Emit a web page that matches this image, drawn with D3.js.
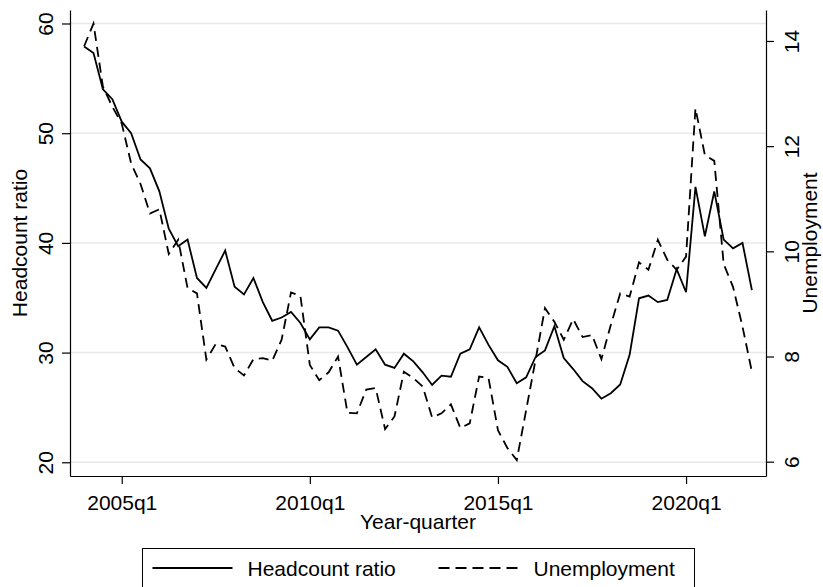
<!DOCTYPE html>
<html>
<head>
<meta charset="utf-8">
<script src="https://cdn.jsdelivr.net/npm/d3@7"></script>
<style>
  body { margin: 0; background: #fff; }
  text { font-family: "Liberation Sans", Arial, sans-serif; fill: #000; }
</style>
</head>
<body>
<script>

const quarters = [
  "2004q1","2004q2","2004q3","2004q4","2005q1","2005q2","2005q3","2005q4",
  "2006q1","2006q2","2006q3","2006q4","2007q1","2007q2","2007q3","2007q4",
  "2008q1","2008q2","2008q3","2008q4","2009q1","2009q2","2009q3","2009q4",
  "2010q1","2010q2","2010q3","2010q4","2011q1","2011q2","2011q3","2011q4",
  "2012q1","2012q2","2012q3","2012q4","2013q1","2013q2","2013q3","2013q4",
  "2014q1","2014q2","2014q3","2014q4","2015q1","2015q2","2015q3","2015q4",
  "2016q1","2016q2","2016q3","2016q4","2017q1","2017q2","2017q3","2017q4",
  "2018q1","2018q2","2018q3","2018q4","2019q1","2019q2","2019q3","2019q4",
  "2020q1","2020q2","2020q3","2020q4","2021q1","2021q2","2021q3","2021q4"
]

const headcount = [
  57.9, 57.3, 54.0, 53.1, 51.05, 50.0, 47.6, 46.8,
  44.7, 41.3, 39.7, 40.3, 36.8, 35.9, 37.6, 39.3,
  36.0, 35.3, 36.8, 34.6, 32.9, 33.2, 33.7, 32.7,
  31.2, 32.3, 32.3, 32.0, 30.5, 28.9, 29.6, 30.3,
  28.9, 28.6, 29.9, 29.2, 28.2, 27.05, 27.9, 27.8,
  29.9, 30.3, 32.3, 30.7, 29.3, 28.7, 27.2, 27.75,
  29.6, 30.2, 32.4, 29.5, 28.5, 27.4, 26.75, 25.8,
  26.3, 27.1, 29.8, 34.95, 35.2, 34.6, 34.8, 37.6,
  35.5, 45.1, 40.6, 44.7, 40.3, 39.5, 40.0, 35.7
]

const unemployment = [
  13.9, 14.33, 13.13, 12.75, 12.43, 11.67, 11.28, 10.72,
  10.8, 9.95, 10.22, 9.3, 9.2, 7.94, 8.24, 8.19,
  7.78, 7.64, 7.95, 7.97, 7.92, 8.32, 9.22, 9.15,
  7.84, 7.55, 7.7, 8.0, 6.93, 6.92, 7.37, 7.40,
  6.62, 6.86, 7.71, 7.59, 7.43, 6.84, 6.92, 7.09,
  6.64, 6.73, 7.62, 7.59, 6.6, 6.26, 6.03, 6.98,
  7.94, 8.92, 8.66, 8.32, 8.71, 8.37, 8.41, 7.95,
  8.6, 9.2, 9.14, 9.79, 9.65, 10.22, 9.84, 9.65,
  9.9, 12.72, 11.83, 11.72, 9.76, 9.32, 8.57, 7.71
]

const xTicks = ["2005q1", "2010q1", "2015q1", "2020q1"]
const leftTicks = [20, 30, 40, 50, 60]
const rightTicks = [6, 8, 10, 12, 14]
const seriesNames = ["Headcount ratio", "Unemployment"]

const w = 823
const h = 587
const plotLeft = 70
const plotRight = 766
const plotTop = 10
const plotBottom = 476
const fontSize = 21

const svg = d3.select("body")
  .append("svg")
  .attr("width", w)
  .attr("height", h)

const xScale = d3.scalePoint()
  .domain(quarters)
  .range([plotLeft, plotRight])
  .padding(1.5)

const yLeft = d3.scaleLinear()
  .domain([18.75, 61.23])
  .range([plotBottom, plotTop])

const yRight = d3.scaleLinear()
  .domain([5.728, 14.589])
  .range([plotBottom, plotTop])

// grid lines follow the left axis
svg.append("g")
  .selectAll("line")
  .data(leftTicks)
  .enter()
  .append("line")
  .attr("x1", plotLeft)
  .attr("x2", plotRight)
  .attr("y1", d => yLeft(d))
  .attr("y2", d => yLeft(d))
  .attr("stroke", "#e8e8e8")
  .attr("stroke-width", 1.5)

const lineFor = scale => d3.line()
  .x((d, i) => xScale(quarters[i]))
  .y(d => scale(d))

svg.append("path")
  .datum(headcount)
  .attr("d", lineFor(yLeft))
  .attr("fill", "none")
  .attr("stroke", "#000")
  .attr("stroke-width", 1.8)

svg.append("path")
  .datum(unemployment)
  .attr("d", lineFor(yRight))
  .attr("fill", "none")
  .attr("stroke", "#000")
  .attr("stroke-width", 1.8)
  .attr("stroke-dasharray", "10,6")

// axes
const xAxis = d3.axisBottom(xScale)
  .tickValues(xTicks)
  .tickSizeInner(8)
  .tickSizeOuter(0)

const gx = svg.append("g")
  .attr("transform", `translate(0, ${plotBottom})`)
  .call(xAxis)
  .attr("font-size", fontSize)
gx.selectAll(".tick text")
  .attr("y", 34)
  .attr("dy", 0)

const gl = svg.append("g")
  .attr("transform", `translate(${plotLeft}, 0)`)
  .call(d3.axisLeft(yLeft).tickValues(leftTicks).tickSizeInner(8).tickSizeOuter(0))
  .attr("font-size", fontSize)
gl.selectAll(".tick text")
  .attr("x", 0)
  .attr("dy", 0)
  .attr("text-anchor", "middle")
  .attr("transform", "translate(-17.5, 0) rotate(-90)")

const gr = svg.append("g")
  .attr("transform", `translate(${plotRight}, 0)`)
  .call(d3.axisRight(yRight).tickValues(rightTicks).tickSizeInner(8).tickSizeOuter(0))
  .attr("font-size", fontSize)
gr.selectAll(".tick text")
  .attr("x", 0)
  .attr("dy", 0)
  .attr("text-anchor", "middle")
  .attr("transform", "translate(32.5, 0) rotate(-90)")

svg.selectAll(".domain, .tick line").attr("stroke-width", 1.2)

// axis titles
svg.append("text")
  .attr("transform", `translate(27, ${(plotTop + plotBottom) / 2}) rotate(-90)`)
  .attr("text-anchor", "middle")
  .attr("font-size", fontSize)
  .text("Headcount ratio")

svg.append("text")
  .attr("transform", `translate(817, ${(plotTop + plotBottom) / 2}) rotate(-90)`)
  .attr("text-anchor", "middle")
  .attr("font-size", fontSize)
  .text("Unemployment")

svg.append("text")
  .attr("x", (plotLeft + plotRight) / 2)
  .attr("y", 529)
  .attr("text-anchor", "middle")
  .attr("font-size", fontSize)
  .text("Year-quarter")

// legend
const legend = svg.append("g")
  .attr("transform", "translate(142.5, 548.5)")

legend.append("rect")
  .attr("width", 552)
  .attr("height", 60)
  .attr("fill", "none")
  .attr("stroke", "#000")
  .attr("stroke-width", 1)

const items = legend.selectAll("g.item")
  .data(seriesNames)
  .enter()
  .append("g")
  .attr("class", "item")
  .attr("transform", (d, i) => `translate(${i === 0 ? 10 : 296}, 0)`)

items.append("line")
  .attr("x1", 0)
  .attr("x2", 80)
  .attr("y1", 19.5)
  .attr("y2", 19.5)
  .attr("stroke", "#000")
  .attr("stroke-width", 1.8)
  .attr("stroke-dasharray", (d, i) => i === 0 ? null : "11,6")

items.append("text")
  .attr("x", 95)
  .attr("y", 27.5)
  .attr("font-size", fontSize)
  .text(d => d)

</script>
</body>
</html>
